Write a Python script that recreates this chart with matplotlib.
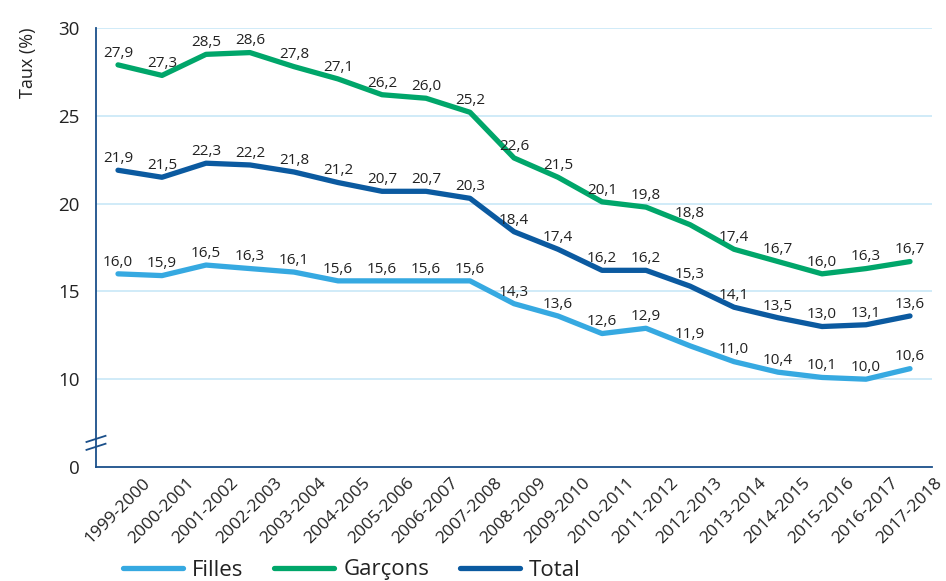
import matplotlib.pyplot as plt

annees = ["1999-2000", "2000-2001", "2001-2002", "2002-2003", "2003-2004", "2004-2005",
          "2005-2006", "2006-2007", "2007-2008", "2008-2009", "2009-2010", "2010-2011",
          "2011-2012", "2012-2013", "2013-2014", "2014-2015", "2015-2016", "2016-2017",
          "2017-2018"]
filles = [16.0, 15.9, 16.5, 16.3, 16.1, 15.6, 15.6, 15.6, 15.6, 14.3, 13.6, 12.6, 12.9,
          11.9, 11.0, 10.4, 10.1, 10.0, 10.6]
garcons = [27.9, 27.3, 28.5, 28.6, 27.8, 27.1, 26.2, 26.0, 25.2, 22.6, 21.5, 20.1, 19.8,
           18.8, 17.4, 16.7, 16.0, 16.3, 16.7]
total = [21.9, 21.5, 22.3, 22.2, 21.8, 21.2, 20.7, 20.7, 20.3, 18.4, 17.4, 16.2, 16.2,
         15.3, 14.1, 13.5, 13.0, 13.1, 13.6]
y_ticks = [0, 10, 15, 20, 25, 30]

plt.rcParams["font.family"] = ["Open Sans", "DejaVu Sans"]
txt = "#222222"
axis_col = "#1a4f8a"

fig = plt.figure(figsize=(9.46, 5.81), dpi=100)
ax = fig.add_axes([96 / 946, 1 - 467 / 581, 836 / 946, 439 / 581])

x = list(range(len(annees)))
series = [("Filles", filles, "#36a9e1"), ("Garçons", garcons, "#00a66a"), ("Total", total, "#0b5aa0")]

# axis break: value 0 is drawn at position 5
def pos(v):
    return 5 if v == 0 else v

for g in [10, 15, 20, 25, 30]:
    ax.axhline(g, color="#c8e8f7", lw=1.2, zorder=0)

for name, vals, col in series:
    ax.plot(x, vals, color=col, lw=3.8, solid_capstyle="round", solid_joinstyle="round", label=name)
    for xi, v in zip(x, vals):
        ax.annotate(f"{v:.1f}".replace(".", ","), (xi, v), xytext=(0, 3),
                    textcoords="offset points", ha="center", va="bottom",
                    fontsize=11, color=txt)

ax.set_xlim(-0.5, len(annees) - 0.5)
ax.set_ylim(5, 30)
ax.set_yticks([pos(v) for v in y_ticks])
ax.set_yticklabels([str(v) for v in y_ticks], fontsize=13.5, color=txt)
ax.set_xticks(x)
ax.set_xticklabels(annees, rotation=45, ha="center", va="top", fontsize=12.5, color=txt)
ax.tick_params(length=0)
ax.tick_params(axis="y", pad=12)
ax.tick_params(axis="x", pad=6)

for s in ["top", "right"]:
    ax.spines[s].set_visible(False)
ax.spines["left"].set_color(axis_col)
ax.spines["bottom"].set_color(axis_col)
ax.spines["left"].set_linewidth(1.3)
ax.spines["bottom"].set_linewidth(1.3)

# break marks
for yc in [0.064, 0.046]:
    ax.plot([-0.0114, 0.0114], [yc - 0.007, yc + 0.007], transform=ax.transAxes,
            color=axis_col, lw=1.3, clip_on=False)

fig.text(28 / 946, 1 - 63 / 581, "Taux (%)", rotation=90, ha="center", va="center",
         fontsize=13, color=txt)

leg = fig.legend(loc="center", bbox_to_anchor=(0.372, 1 - 570 / 581), ncol=3, frameon=False,
                 fontsize=16, handlelength=2.7, columnspacing=1.4, handletextpad=0.4)
for t in leg.get_texts():
    t.set_color(txt)

fig.savefig("out.png", dpi=100)
